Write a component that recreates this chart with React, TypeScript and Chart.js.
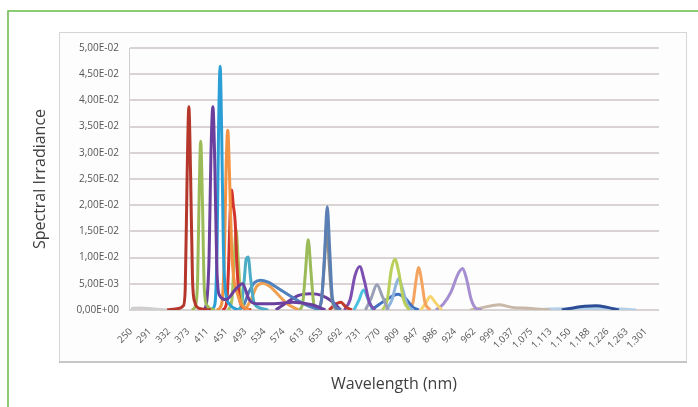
import React, { useEffect, useRef } from 'react';
import { Chart, registerables } from 'chart.js';

Chart.register(...registerables);

// Category tick labels (wavelength, nm) — one per x index 0..27
const tickLabels = ['250', '291', '332', '373', '411', '451', '493', '534', '574', '613', '653', '692', '731', '770', '809', '847', '886', '924', '962', '999', '1.037', '1.075', '1.113', '1.150', '1.188', '1.226', '1.263', '1.301'];

// Y axis values (spectral irradiance)
const yMin = 0;
const yMax = 0.05;
const yStep = 0.005;

// Series: [x position in label-index units, irradiance]
const redA = [[1.9, 0], [2.5, 0.0003], [2.75, 0.0008], [2.85, 0.004], [2.95, 0.026], [3.04, 0.0388], [3.13, 0.026], [3.23, 0.006], [3.35, 0.0015], [3.6, 0.0003], [4.2, 0]];
const greenA = [[3.2, 0], [3.4, 0.001], [3.5, 0.006], [3.58, 0.022], [3.66, 0.0322], [3.75, 0.021], [3.85, 0.004], [4.0, 0.0008], [4.4, 0]];
const purpleA = [[3.8, 0], [3.95, 0.001], [4.1, 0.01], [4.2, 0.03], [4.3, 0.0388], [4.4, 0.028], [4.5, 0.009], [4.62, 0.003], [5.0, 0.002], [5.5, 0.004], [5.85, 0.005], [6.2, 0.002], [6.6, 0.0012], [7.5, 0.0012], [8.5, 0.0015], [9.5, 0.001], [10.2, 0]];
const cyanA = [[4.2, 0], [4.4, 0.001], [4.52, 0.012], [4.6, 0.035], [4.68, 0.0465], [4.76, 0.034], [4.85, 0.012], [4.95, 0.004], [5.2, 0.001], [5.6, 0]];
const orangeA = [[4.5, 0], [4.75, 0.001], [4.9, 0.01], [5.0, 0.028], [5.08, 0.0343], [5.17, 0.026], [5.28, 0.012], [5.4, 0.006], [5.6, 0.003], [5.8, 0.001], [6.2, 0]];
const redB = [[4.8, 0], [5.0, 0.001], [5.12, 0.008], [5.2, 0.018], [5.28, 0.0229], [5.37, 0.02], [5.47, 0.0168], [5.57, 0.008], [5.7, 0.002], [5.9, 0.0005], [6.3, 0]];
const greenB = [[5.1, 0], [5.3, 0.002], [5.42, 0.01], [5.52, 0.0153], [5.62, 0.01], [5.75, 0.003], [5.95, 0.0005], [6.3, 0]];
const cyanB = [[5.6, 0], [5.8, 0.001], [5.95, 0.006], [6.05, 0.0098], [6.15, 0.0101], [6.28, 0.006], [6.45, 0.0015], [6.7, 0.0005], [7.2, 0]];
const blueA = [[5.6, 0], [5.9, 0.0008], [6.2, 0.0035], [6.5, 0.0053], [6.8, 0.0057], [7.2, 0.0053], [7.7, 0.0042], [8.3, 0.0028], [8.9, 0.0015], [9.5, 0.0005], [10.0, 0]];
const orangeB = [[6.0, 0], [6.3, 0.002], [6.6, 0.0045], [6.9, 0.0051], [7.3, 0.0045], [7.7, 0.003], [8.2, 0.0012], [8.8, 0]];
const greenC = [[8.8, 0], [9.0, 0.001], [9.15, 0.007], [9.3, 0.0134], [9.45, 0.007], [9.6, 0.001], [9.8, 0]];
const blueB = [[9.8, 0], [10.0, 0.002], [10.15, 0.01], [10.3, 0.0197], [10.42, 0.012], [10.55, 0.003], [10.7, 0.0008], [11.0, 0]];
const grayA = [[9.8, 0], [10.0, 0.002], [10.15, 0.009], [10.28, 0.0163], [10.4, 0.009], [10.55, 0.002], [10.8, 0]];
const purpleB = [[7.6, 0], [8.2, 0.0015], [8.8, 0.0028], [9.4, 0.0031], [10.0, 0.0028], [10.6, 0.0015], [11.0, 0]];
const redC = [[10.4, 0], [10.7, 0.001], [11.0, 0.0015], [11.3, 0.0005], [11.6, 0]];
const purpleC = [[11.2, 0], [11.5, 0.002], [11.75, 0.0065], [12.0, 0.0083], [12.25, 0.0055], [12.5, 0.0015], [12.8, 0]];
const cyanC = [[11.7, 0], [11.95, 0.0018], [12.2, 0.0038], [12.45, 0.002], [12.7, 0]];
const grayB = [[12.3, 0], [12.6, 0.0022], [12.9, 0.0048], [13.2, 0.0025], [13.5, 0]];
const greenD = [[13.2, 0], [13.45, 0.002], [13.65, 0.0075], [13.85, 0.0097], [14.05, 0.0072], [14.3, 0.002], [14.6, 0]];
const lightBlue = [[13.4, 0], [13.7, 0.002], [13.9, 0.0048], [14.05, 0.006], [14.25, 0.004], [14.5, 0.001], [14.8, 0]];
const blueC = [[12.6, 0], [13.0, 0.001], [13.5, 0.0022], [14.0, 0.003], [14.4, 0.0022], [14.8, 0.0005], [15.1, 0]];
const orangeC = [[14.6, 0], [14.8, 0.0015], [14.95, 0.0055], [15.1, 0.0081], [15.25, 0.0055], [15.42, 0.0015], [15.7, 0]];
const yellowA = [[15.2, 0], [15.45, 0.0012], [15.7, 0.0026], [15.95, 0.0015], [16.3, 0]];
const lavender = [[16.0, 0], [16.4, 0.0012], [16.8, 0.0035], [17.15, 0.0068], [17.4, 0.0079], [17.6, 0.006], [17.85, 0.002], [18.1, 0.0003], [18.4, 0]];
const taupe = [[17.8, 0], [18.5, 0.0005], [19.3, 0.001], [20.0, 0.0005], [21.0, 0.0003], [22.0, 0]];
const navy = [[22.6, 0], [23.2, 0.0004], [23.8, 0.0007], [24.4, 0.0008], [25.0, 0.0005], [25.6, 0]];
const paleBlue = [[21.0, 0], [22.0, 0.0002], [23.0, 0.0003], [25.0, 0.0003], [26.5, 0]];
const faintGray = [[0, 0.0003], [0.5, 0.0004], [1.2, 0.0002], [2.0, 0]];

const seriesList: [number[][], string][] = [
  [redA, '#b5372b'],
  [greenA, '#9bbb59'],
  [purpleA, '#6a3f9e'],
  [cyanA, '#2b9ed6'],
  [orangeA, '#f39240'],
  [redB, '#d2342c'],
  [greenB, '#a8c45c'],
  [cyanB, '#4bacc6'],
  [blueA, '#4f81bd'],
  [orangeB, '#f0a050'],
  [greenC, '#9bbb59'],
  [blueB, '#5a7fb5'],
  [grayA, '#8e8a84'],
  [purpleB, '#6a3f9e'],
  [redC, '#c0392b'],
  [purpleC, '#7d4fb0'],
  [cyanC, '#4bc0e0'],
  [grayB, '#9aa0b5'],
  [greenD, '#b8cf5a'],
  [lightBlue, '#8fb4de'],
  [blueC, '#4070c0'],
  [orangeC, '#f4a460'],
  [yellowA, '#f6d36b'],
  [lavender, '#a58fd0'],
  [taupe, '#c8b8a8'],
  [navy, '#2c4d95'],
  [paleBlue, '#b4cfe8'],
  [faintGray, '#cfcfcf'],
];

function sci(v: number): string {
  if (Math.abs(v) < 1e-12) return '0,00E+00';
  const e = Math.floor(Math.log10(v) + 1e-9);
  const m = v / Math.pow(10, e);
  const es = (e < 0 ? '-' : '+') + String(Math.abs(e)).padStart(2, '0');
  return m.toFixed(2).replace('.', ',') + 'E' + es;
}

const framePlugin = {
  id: 'frame',
  beforeDraw(chart: any) {
    const ctx = chart.ctx;
    ctx.save();
    ctx.fillStyle = '#ffffff';
    ctx.fillRect(0, 0, chart.width, chart.height);
    // panel
    ctx.fillStyle = '#fdfdfd';
    ctx.fillRect(59, 32, 627, 330);
    ctx.strokeStyle = '#d6d6d6';
    ctx.lineWidth = 1;
    ctx.strokeRect(59.5, 32.5, 627, 330);
    ctx.strokeStyle = '#c6c6c6';
    ctx.lineWidth = 2;
    ctx.beginPath();
    ctx.moveTo(59, 362);
    ctx.lineTo(687, 362);
    ctx.stroke();
    // green frame
    ctx.strokeStyle = '#66bb44';
    ctx.lineWidth = 1.5;
    ctx.beginPath();
    ctx.moveTo(8, 407);
    ctx.lineTo(8, 11);
    ctx.lineTo(698, 11);
    ctx.stroke();
    ctx.restore();
  },
};

export default function App() {
  const ref = useRef<HTMLCanvasElement>(null);
  useEffect(() => {
    const datasets = seriesList.map(([pts, color]) => ({
      data: pts.map(([x, y]) => ({ x, y })),
      borderColor: color,
      backgroundColor: color,
      borderWidth: 3,
      pointRadius: 0,
      tension: 0.4,
      cubicInterpolationMode: 'monotone' as const,
      fill: false,
    }));
    const chart = new Chart(ref.current!, {
      type: 'line',
      data: { datasets },
      plugins: [framePlugin],
      options: {
        responsive: false,
        animation: false,
        layout: { padding: { left: 28, right: 39, top: 48, bottom: 10 } },
        plugins: { legend: { display: false }, tooltip: { enabled: false } },
        scales: {
          x: {
            type: 'linear',
            min: -0.1,
            max: 27.7,
            grid: { display: false },
            border: { display: false },
            afterBuildTicks: (scale: any) => {
              scale.ticks = tickLabels.map((_, i) => ({ value: i }));
            },
            afterFit: (scale: any) => {
              scale.height = 87;
            },
            ticks: {
              autoSkip: false,
              minRotation: 45,
              maxRotation: 45,
              padding: 8,
              color: '#555555',
              font: { family: 'Open Sans', size: 9.5 },
              callback: (v: any) => tickLabels[Math.round(Number(v))] ?? '',
            },
            title: {
              display: true,
              text: 'Wavelength (nm)',
              color: '#404040',
              font: { family: 'Open Sans', size: 16 },
              padding: { top: 4, bottom: 3 },
            },
          },
          y: {
            type: 'linear',
            min: yMin,
            max: yMax,
            afterFit: (scale: any) => {
              scale.width = 101;
            },
            grid: { color: '#d9d3d3', lineWidth: 2, drawTicks: false },
            border: { color: '#d0d0d0', width: 1 },
            ticks: {
              stepSize: yStep,
              padding: 10,
              color: '#555555',
              font: { family: 'Open Sans', size: 10 },
              callback: (v: any) => sci(Number(v)),
            },
            title: {
              display: true,
              text: 'Spectral Irradiance',
              color: '#404040',
              font: { family: 'Open Sans', size: 16 },
              padding: { top: 3, bottom: 4 },
            },
          },
        },
      },
    });
    return () => chart.destroy();
  }, []);
  return (
    <div style={{ position: 'fixed', left: 0, top: 0, width: 698, height: 407, background: '#fff' }}>
      <canvas ref={ref} width={698} height={407} style={{ display: 'block' }} />
    </div>
  );
}
